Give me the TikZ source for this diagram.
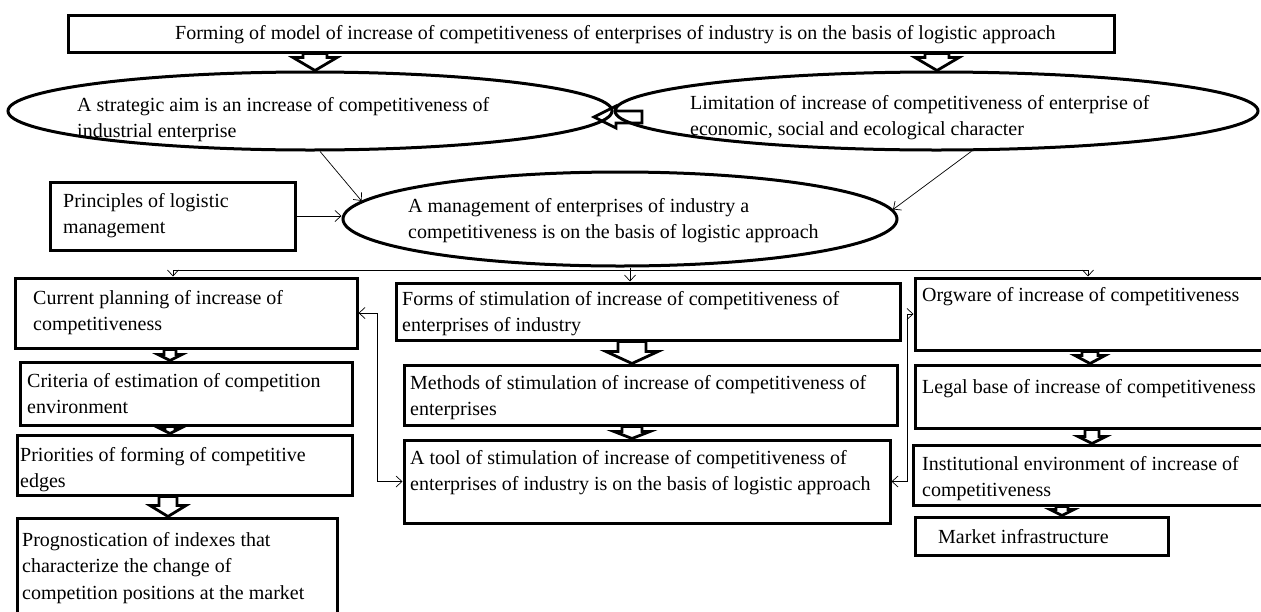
\documentclass[tikz,border=0pt]{standalone}
\usepackage{fontspec}
\setmainfont{Liberation Serif}
\usetikzlibrary{arrows.meta,shapes.geometric,calc}
\newcommand\bx[5]{\node[box, minimum width={(#4-#2)*1pt}, minimum height={(#5-#3)*1pt}] (#1) at ({(#2+#4)/2},{(#3+#5)/2}) {};}
% #1 name, #2 x, #3 first baseline, #4 number of lines, #5 text
\newcommand\tx[5]{\node[txt] (#1) at (#2,{#3+26.5*(#4-1)}) {#5};}
\newcommand\bdown[5]{\path[blockarr] let \p1=(#1), \p2=(#2) in (\x1-#3pt,\y1) -- (\x1+#3pt,\y1) -- (\x1+#3pt,\y2+#5pt) -- (\x1+#4pt,\y2+#5pt) -- (\x1,\y2) -- (\x1-#4pt,\y2+#5pt) -- (\x1-#3pt,\y2+#5pt) -- cycle;}
\newcommand\bleft[5]{\path[blockarr] let \p1=(#1), \p2=(#2) in (\x1,\y2+#3pt) -- (\x1,\y2-#3pt) -- (\x2+#5pt,\y2-#3pt) -- (\x2+#5pt,\y2-#4pt) -- (\x2,\y2) -- (\x2+#5pt,\y2+#4pt) -- (\x2+#5pt,\y2+#3pt) -- cycle;}
\begin{document}
\begin{tikzpicture}[x=1pt,y=-1pt,
 box/.style={draw, line width=3pt, rectangle, inner sep=0pt},
 ell/.style={draw, line width=3pt, ellipse, inner sep=0pt},
 txt/.style={font=\fontsize{20}{26.5}\selectfont, align=left, inner sep=0pt, anchor=base west},
 barb/.tip={Straight Barb[length=6pt,width=11pt]},
 thinarr/.style={line width=0.7pt, -barb},
 twoarr/.style={line width=0.7pt, barb-barb},
 blockarr/.style={draw, fill=white, line width=2.8pt, line join=miter}]
\useasboundingbox[fill=white] (0,0) rectangle (1261,611);
% boxes
\bx{top}{68}{15}{1114}{52}
\bx{princ}{50}{182}{295}{250}
\bx{cur}{15}{278}{357}{348}
\bx{crit}{20}{362}{352}{425}
\bx{prio}{17}{435}{352}{495}
\bx{prog}{17}{518}{337}{616}
\bx{forms}{396}{283}{900}{340}
\bx{methods}{404}{365}{897}{425}
\bx{tool}{404}{440}{890}{523}
\bx{org}{915}{278}{1266}{350}
\bx{legal}{915}{365}{1266}{428}
\bx{inst}{913}{445}{1266}{505}
\bx{market}{915}{517}{1168}{555}
% left block arrow between ellipses
\bleft{642,117}{594,117}{6}{11}{22}
% ellipses
\node[ell, minimum width=604pt, minimum height=78pt] (e1) at (310,111) {};
\node[ell, minimum width=643pt, minimum height=78pt] (e2) at (936.5,111) {};
\node[ell, minimum width=554pt, minimum height=94pt] (e3) at (620,219) {};
% texts
\tx{ttop}{175}{39}{1}{Forming of model of increase of competitiveness of enterprises of industry is on the basis of logistic approach}
\tx{te1}{77}{111}{2}{A strategic aim is an increase of competitiveness of\\industrial enterprise}
\tx{te2}{690}{109}{2}{Limitation of increase of competitiveness of enterprise of\\economic, social and ecological character}
\tx{te3}{408}{212}{2}{A management of enterprises of industry a\\competitiveness is on the basis of logistic approach}
\tx{tprinc}{63}{207}{2}{Principles of logistic\\management}
\tx{tcur}{33}{304}{2}{Current planning of increase of\\competitiveness}
\tx{tcrit}{27}{387}{2}{Criteria of estimation of competition\\environment}
\tx{tprio}{20}{461}{2}{Priorities of forming of competitive\\edges}
\tx{tprog}{22}{546}{3}{Prognostication of indexes that\\characterize the change of\\competition positions at the market}
\tx{tforms}{402}{305}{2}{Forms of stimulation of increase of competitiveness of\\enterprises of industry}
\tx{tmethods}{410}{389}{2}{Methods of stimulation of increase of competitiveness of\\enterprises}
\tx{ttool}{410}{464}{2}{A tool of stimulation of increase of competitiveness of\\enterprises of industry is on the basis of logistic approach}
\tx{torg}{922}{301}{1}{Orgware of increase of competitiveness}
\tx{tlegal}{922}{393}{1}{Legal base of increase of competitiveness}
\tx{tinst}{922}{470}{2}{Institutional environment of increase of\\competitiveness}
\tx{tmarket}{938}{543}{1}{Market infrastructure}
% block arrows
\bdown{315,0 |- top.south}{315,0 |- e1.north}{12}{22}{13}
\bdown{937,0 |- top.south}{937,0 |- e2.north}{12}{22}{13}
\bdown{170,0 |- cur.south}{170,0 |- crit.north}{6}{12}{6}
\bdown{170,0 |- crit.south}{170,0 |- prio.north}{5}{10}{5}
\bdown{168,0 |- prio.south}{168,0 |- prog.north}{9}{18}{11}
\bdown{632,0 |- forms.south}{632,0 |- methods.north}{14}{26}{12}
\bdown{632,0 |- methods.south}{632,0 |- tool.north}{10}{18}{7}
\bdown{1090,0 |- org.south}{1090,0 |- legal.north}{8}{15}{8}
\bdown{1092,0 |- legal.south}{1092,0 |- inst.north}{7}{14}{7}
\bdown{1062,0 |- inst.south}{1062,0 |- market.north}{6}{12}{6}
% thin connectors
\draw[thinarr] (e1.-76) -- (e3.176);
\draw[thinarr] (e2.-49) -- (e3.2);
\draw[thinarr] (princ.east) -- (princ.east -| e3.west);
\coordinate (bL) at (173,270);
\coordinate (bR) at (1088,270);
\coordinate (bM) at (630,270);
\draw[line width=0.7pt] (bL) -- (bR);
\draw[thinarr] (bL) -- (bL |- cur.north);
\draw[thinarr] (bR) -- (bR |- org.north);
\draw[thinarr] (bM |- e3.south) -- (bM |- forms.north);
\coordinate (sL) at (377,0);
\coordinate (sR) at (907,0);
\draw[twoarr] (cur.east) -- (cur.east -| sL) |- (tool.west);
\draw[twoarr] (org.west) -- (org.west -| sR) |- (tool.east);
\end{tikzpicture}
\end{document}
